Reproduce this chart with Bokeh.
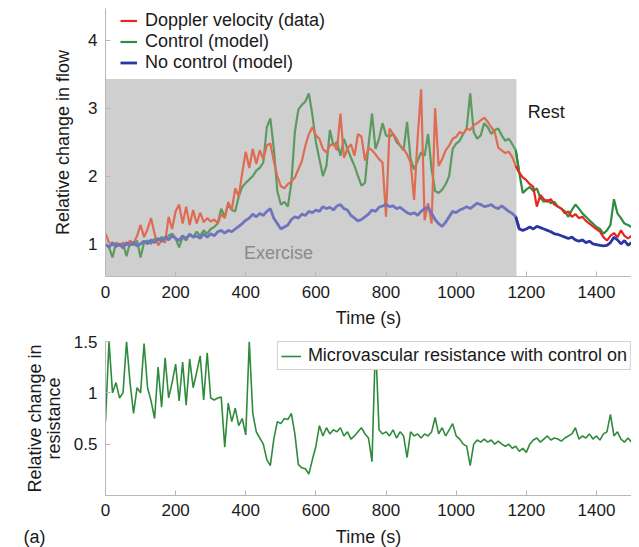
from bokeh.plotting import figure
from bokeh.layouts import column
from bokeh.models import (ColumnDataSource, BoxAnnotation, Label, Legend, LegendItem,
                          FixedTicker, Range1d)
from bokeh.embed import file_html
from bokeh.resources import INLINE

# ---------------- data ----------------
time_s = list(range(0, 1501, 10))

doppler_velocity = [
    1.15, 1.02, 0.98, 1.00, 0.97, 1.02, 0.98, 1.05, 1.00, 1.12,
    1.28, 1.10, 1.22, 1.38, 1.15, 0.98, 1.05, 1.02, 1.40, 1.22,
    1.48, 1.58, 1.30, 1.55, 1.28, 1.50, 1.30, 1.46, 1.32, 1.38,
    1.33, 1.36, 1.30, 1.44, 1.38, 1.62, 1.50, 1.82, 1.70, 2.05,
    2.36, 2.12, 2.40, 2.18, 2.38, 2.25, 2.45, 2.48, 2.22, 2.00,
    1.85, 1.82, 1.88, 1.92, 1.98, 2.10, 2.22, 2.45, 2.62, 2.72,
    2.60, 2.55, 2.40, 2.35, 2.45, 2.48, 2.38, 2.92, 2.27, 2.40,
    2.47, 2.30, 2.62, 2.58, 2.23, 2.42, 2.38, 2.32, 2.25, 2.20,
    1.40, 2.70, 2.62, 2.55, 2.45, 2.40, 2.32, 2.20, 1.65, 2.55,
    3.28, 1.35, 1.60, 1.30, 3.00, 2.15, 2.25, 2.38, 2.45, 2.55,
    2.58, 2.65, 2.62, 2.70, 2.68, 2.75, 2.78, 2.82, 2.86, 2.80,
    2.72, 2.65, 2.42, 2.38, 2.34, 2.36, 2.28, 2.15, 2.05, 1.98,
    1.94, 1.88, 1.84, 1.55, 1.72, 1.66, 1.62, 1.66, 1.58, 1.55,
    1.52, 1.45, 1.48, 1.40, 1.44, 1.38, 1.40, 1.34, 1.30, 1.26,
    1.22, 1.18, 1.10, 1.05, 1.12, 1.16, 1.10, 1.20, 1.12, 1.08,
    1.12,
]

control_model = [
    1.00, 0.95, 0.80, 1.02, 0.98, 1.00, 0.82, 1.02, 0.98, 1.05,
    0.80, 1.02, 1.05, 1.00, 1.08, 1.05, 1.10, 1.06, 1.12, 1.15,
    1.08, 0.95, 1.10, 1.05, 1.15, 1.10, 1.18, 1.12, 1.20, 1.15,
    1.22, 1.25, 1.30, 1.52, 1.40, 1.58, 1.50, 1.48, 1.70, 1.84,
    1.90, 1.95, 2.00, 2.08, 2.12, 2.20, 2.72, 2.85, 2.40, 1.78,
    1.58, 1.62, 1.55, 1.90, 2.65, 2.98, 3.05, 3.10, 3.22, 2.90,
    2.50, 2.25, 2.00, 2.15, 2.68, 2.45, 2.50, 2.30, 2.55, 2.40,
    2.27, 2.15, 2.00, 1.86, 1.90, 2.45, 2.92, 2.40, 2.55, 2.78,
    2.60, 2.58, 2.62, 2.50, 2.45, 2.38, 2.80, 2.25, 2.10, 2.22,
    2.35, 2.30, 2.62, 2.10, 1.78, 1.75, 1.80, 1.88, 2.00, 2.40,
    2.48, 2.52, 2.62, 2.70, 3.22, 2.65, 2.55, 2.60, 2.78, 2.72,
    2.62, 2.68, 2.70, 2.60, 2.52, 2.55, 2.47, 2.38, 2.05, 1.75,
    1.80, 1.84, 1.78, 1.82, 1.68, 1.62, 1.65, 1.60, 1.62, 1.55,
    1.52, 1.48, 1.40, 1.50, 1.58, 1.52, 1.45, 1.40, 1.35, 1.30,
    1.25, 1.22, 1.15, 1.20, 1.28, 1.66, 1.45, 1.38, 1.30, 1.28,
    1.25,
]

no_control_model = [
    1.00, 0.95, 1.02, 0.96, 1.00, 0.94, 1.02, 0.98, 1.03, 0.97,
    1.00, 1.04, 1.00, 1.06, 1.02, 1.08, 1.04, 1.10, 1.06, 1.12,
    1.08, 1.05, 1.12, 1.08, 1.14, 1.10, 1.12, 1.08, 1.15, 1.10,
    1.15, 1.12, 1.18, 1.20, 1.16, 1.20, 1.18, 1.22, 1.26, 1.30,
    1.35, 1.38, 1.44, 1.40, 1.45, 1.42, 1.48, 1.52, 1.38, 1.30,
    1.22, 1.25, 1.28, 1.36, 1.40, 1.38, 1.44, 1.42, 1.48, 1.46,
    1.50, 1.48, 1.55, 1.52, 1.54, 1.50, 1.56, 1.58, 1.52, 1.50,
    1.42, 1.38, 1.34, 1.36, 1.40, 1.44, 1.50, 1.48, 1.54, 1.56,
    1.58, 1.55, 1.56, 1.52, 1.54, 1.50, 1.46, 1.44, 1.46, 1.42,
    1.48, 1.52, 1.54, 1.45, 1.36, 1.30, 1.26, 1.32, 1.40, 1.48,
    1.46, 1.50, 1.52, 1.55, 1.52, 1.56, 1.60, 1.58, 1.55, 1.56,
    1.58, 1.54, 1.52, 1.56, 1.52, 1.48, 1.45, 1.40, 1.22, 1.20,
    1.22, 1.25, 1.22, 1.26, 1.24, 1.22, 1.20, 1.18, 1.15, 1.14,
    1.12, 1.10, 1.08, 1.10, 1.06, 1.04, 1.06, 1.02, 1.04, 1.00,
    0.99, 0.98, 0.97, 0.98, 1.02, 1.10, 1.06, 1.00, 1.05, 0.98,
    1.02,
]

resistance_control_on = [
    0.72, 1.50, 1.00, 1.10, 0.95, 1.00, 1.50, 1.10, 0.80, 1.05,
    1.00, 1.48, 1.05, 0.92, 0.75, 1.25, 0.86, 1.34, 0.95, 1.10,
    1.28, 0.92, 1.30, 0.88, 1.33, 1.05, 1.20, 1.36, 0.93, 1.39,
    0.95, 0.93, 0.95, 0.96, 0.47, 0.90, 0.72, 0.85, 0.68, 0.75,
    0.59, 1.50, 0.80, 0.62, 0.56, 0.50, 0.35, 0.29, 0.55, 0.72,
    0.70, 0.75, 0.74, 0.80, 0.60, 0.30, 0.27, 0.26, 0.21, 0.35,
    0.48, 0.68, 0.58, 0.66, 0.60, 0.64, 0.62, 0.66, 0.58, 0.62,
    0.55, 0.58, 0.62, 0.66, 0.60, 0.56, 0.33, 1.50, 0.64, 0.60,
    0.62, 0.58, 0.64, 0.56, 0.62, 0.58, 0.37, 0.62, 0.58, 0.60,
    0.56, 0.60, 0.58, 0.62, 0.76, 0.60, 0.66, 0.58, 0.64, 0.70,
    0.58, 0.55, 0.50, 0.48, 0.29, 0.50, 0.54, 0.52, 0.55, 0.52,
    0.54, 0.50, 0.53, 0.50, 0.48, 0.50, 0.46, 0.48, 0.43, 0.46,
    0.42, 0.50, 0.54, 0.56, 0.52, 0.55, 0.58, 0.54, 0.56, 0.55,
    0.53, 0.56, 0.58, 0.60, 0.66, 0.55, 0.58, 0.56, 0.60, 0.55,
    0.58, 0.54, 0.60, 0.62, 0.79, 0.58, 0.62, 0.55, 0.52, 0.56,
    0.52,
]

x_ticks = [0, 200, 400, 600, 800, 1000, 1200, 1400]
flow_ticks = [1, 2, 3, 4]
resistance_ticks = [0.5, 1, 1.5]
resistance_tick_labels = ["0.5", "1", "1.5"]
panel_tag = "(a)"

exercise_end_s = 1172
shade_top = 3.43

# ---------------- styling ----------------
FONT = "Liberation Sans"
AXIS_GREY = "#b8b8b8"
TEXT = "#1a1a1a"


def style(p, yticks, ylabel, x_std, xl_std, y_std):
    p.outline_line_color = None
    p.xgrid.visible = False
    p.ygrid.visible = False
    p.background_fill_color = "white"
    p.xaxis.ticker = FixedTicker(ticks=x_ticks)
    p.yaxis.ticker = FixedTicker(ticks=yticks)
    for ax in (p.xaxis[0], p.yaxis[0]):
        ax.axis_line_color = AXIS_GREY
        ax.major_tick_line_color = AXIS_GREY
        ax.major_tick_in = 5
        ax.major_tick_out = 0
        ax.minor_tick_line_color = None
        ax.major_label_text_font = FONT
        ax.major_label_text_font_size = "17px"
        ax.major_label_text_color = TEXT
        ax.axis_label_text_font = FONT
        ax.axis_label_text_font_size = "18px"
        ax.axis_label_text_font_style = "normal"
        ax.axis_label_text_color = TEXT
        ax.axis_label_text_line_height = 0.95
    p.xaxis.major_label_standoff = x_std
    p.xaxis.axis_label_standoff = xl_std
    p.yaxis.axis_label = ylabel
    p.yaxis.major_label_standoff = 8
    p.yaxis.axis_label_standoff = y_std


# ---------------- top panel ----------------
p1 = figure(width=631, height=331, x_range=Range1d(0, 1500), y_range=Range1d(0.52, 4.47),
            output_backend="svg", toolbar_location=None,
            min_border_left=105, min_border_right=0, min_border_top=8, min_border_bottom=55)
style(p1, flow_ticks, "Relative change in flow", 9, 7, 12)
p1.xaxis.axis_label = "Time (s)"

p1.add_layout(BoxAnnotation(left=0, right=exercise_end_s, top=shade_top,
                            fill_color="#cfcfcf", fill_alpha=1.0, line_color=None,
                            level="underlay"))

split_a = [i for i, t in enumerate(time_s) if t <= exercise_end_s + 8]
split_b = [i for i, t in enumerate(time_s) if t >= exercise_end_s - 2]


def sub(idx, ys):
    return ColumnDataSource(data=dict(t=[time_s[i] for i in idx], v=[ys[i] for i in idx]))


series = [
    ("Doppler velocity (data)", doppler_velocity, "#df6c52", "#e5261f", 2.2),
    ("Control (model)", control_model, "#5c9b60", "#2f8b40", 2.2),
    ("No control (model)", no_control_model, "#7073bd", "#2b36a2", 2.8),
]
draw_order = [1, 0, 2]
rest_renderers = {}
for k in draw_order:
    name, ys, c_ex, c_rest, lw = series[k]
    p1.line("t", "v", source=sub(split_a, ys), line_color=c_ex, line_width=lw)
    rest_renderers[k] = p1.line("t", "v", source=sub(split_b, ys), line_color=c_rest, line_width=lw)

leg1 = Legend(items=[LegendItem(label=series[k][0], renderers=[rest_renderers[k]]) for k in range(3)],
              location=(15, 203), padding=0, margin=0, spacing=0,
              glyph_width=17, glyph_height=21, label_height=21, label_standoff=8,
              label_text_font=FONT, label_text_font_size="18px", label_text_color=TEXT,
              border_line_color=None, background_fill_color="white", background_fill_alpha=1.0)
p1.add_layout(leg1)

p1.add_layout(Label(x=395, y=0.87, text="Exercise", text_font=FONT, text_font_size="18px",
                    text_color="#8a8a8a", text_baseline="middle"))
p1.add_layout(Label(x=1204, y=2.94, text="Rest", text_font=FONT, text_font_size="18px",
                    text_color=TEXT, text_baseline="middle"))

# ---------------- bottom panel ----------------
p2 = figure(width=631, height=194, x_range=Range1d(0, 1500), y_range=Range1d(0, 1.5),
            output_backend="svg", toolbar_location=None,
            min_border_left=105, min_border_right=0, min_border_top=10, min_border_bottom=30)
style(p2, resistance_ticks, "Relative change in\nresistance", 8, 0, 7)
p2.yaxis.major_label_overrides = {v: s for v, s in zip(resistance_ticks, resistance_tick_labels)}

src_r = ColumnDataSource(data=dict(t=time_s, v=resistance_control_on))
r_res = p2.line("t", "v", source=src_r, line_color="#2f8b3c", line_width=1.6)

leg2 = Legend(items=[LegendItem(label="Microvascular resistance with control on", renderers=[r_res])],
              location="top_right", padding=3, margin=0, spacing=0,
              glyph_width=20, glyph_height=20, label_height=20, label_standoff=7,
              label_text_font=FONT, label_text_font_size="18px", label_text_color=TEXT,
              border_line_color="#a8a8a8", border_line_width=1,
              background_fill_color="white", background_fill_alpha=1.0)
p2.add_layout(leg2)

# ---------------- caption strip: x-axis title of the lower panel and panel tag ----------------
p3 = figure(width=631, height=22, x_range=Range1d(0, 1500), y_range=Range1d(0, 1),
            x_axis_location=None, y_axis_location="left",
            output_backend="svg", toolbar_location=None,
            min_border_left=105, min_border_right=0, min_border_top=0, min_border_bottom=0)
p3.outline_line_color = None
p3.xgrid.visible = False
p3.ygrid.visible = False
p3.yaxis.ticker = FixedTicker(ticks=[0.45])
p3.yaxis.major_label_overrides = {0.45: panel_tag}
p3.yaxis.axis_line_color = None
p3.yaxis.major_tick_line_color = None
p3.yaxis.minor_tick_line_color = None
p3.yaxis.major_tick_in = 0
p3.yaxis.major_tick_out = 0
p3.yaxis.major_label_standoff = 60
p3.yaxis.major_label_text_font = FONT
p3.yaxis.major_label_text_font_size = "18px"
p3.yaxis.major_label_text_color = TEXT
p3.add_layout(Label(x=263, y=11, x_units="screen", y_units="screen", text="Time (s)",
                    text_font=FONT, text_font_size="18px", text_color=TEXT,
                    text_align="center", text_baseline="middle"))

layout = column(p1, p2, p3, spacing=0)
open("out.html", "w").write(file_html(layout, INLINE))
